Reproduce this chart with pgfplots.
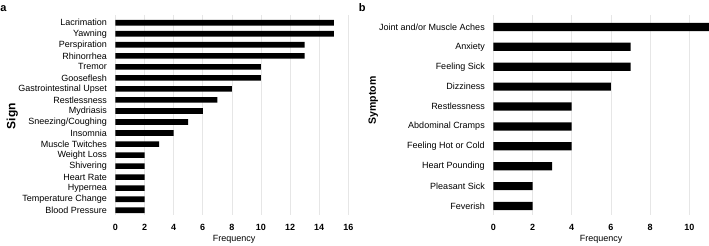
\documentclass[border=0pt]{standalone}
\usepackage{pgfplots}
\pgfplotsset{compat=1.18}
\usepackage{fontspec}
\setmainfont{Liberation Sans}
\definecolor{gridc}{HTML}{E6E6E6}
\pgfplotsset{
  mybar/.style={
    scale only axis,
    anchor=south west,
    xbar,
    height=200pt,
    xmin=0,
    axis line style={draw=none},
    tick style={draw=none},
    major tick length=0pt,
    xmajorgrids,
    grid style={color=gridc, line width=0.6pt},
    /pgf/number format/assume math mode=true,
    ticklabel style={font=\fontsize{9}{10}\selectfont},
    xticklabel style={font=\fontsize{9}{10}\selectfont\bfseries, yshift=-5.8pt},
    yticklabel style={xshift=-5pt},
    xlabel={Frequency},
    xlabel style={font=\fontsize{9}{10}\selectfont, anchor=center},
    ylabel style={font=\bfseries, anchor=center},
    ytick={0,...,20},
  }
}
\begin{document}
\begin{tikzpicture}
\useasboundingbox (0,0) rectangle (709pt,246pt);
\begin{axis}[mybar,
  at={(115.4pt,31pt)},
  width=237.3pt,
  xmax=16.3,
  xtick={0,2,...,16},
  ymin=-0.43, ymax=17.7,
  bar width=5.6pt,
  yticklabels={Blood Pressure,Temperature Change,Hypernea,Heart Rate,Shivering,Weight Loss,Muscle Twitches,Insomnia,Sneezing/Coughing,Mydriasis,Restlessness,Gastrointestinal Upset,Gooseflesh,Tremor,Rhinorrhea,Perspiration,Yawning,Lacrimation},
  ylabel={Sign},
  ylabel style={font=\fontsize{12}{13}\selectfont\bfseries, at={(axis description cs:-0.4345,0.4935)}},
  xlabel style={at={(axis description cs:0.5,-0.1215)}},
]
\addplot[fill=black, draw=none] coordinates {
(2,0) (2,1) (2,2) (2,3) (2,4) (2,5) (3,6) (4,7) (5,8) (6,9) (7,10) (8,11) (10,12) (10,13) (13,14) (13,15) (15,16) (15,17)};
\end{axis}
\begin{axis}[mybar,
  at={(493.3pt,31pt)},
  width=215.6pt,
  xmax=11,
  xtick={0,2,...,10},
  ymin=-0.45, ymax=9.6,
  bar width=8.2pt,
  yticklabels={Feverish,Pleasant Sick,Heart Pounding,Feeling Hot or Cold,Abdominal Cramps,Restlessness,Dizziness,Feeling Sick,Anxiety,Joint and/or Muscle Aches},
  ylabel={Symptom},
  ylabel style={font=\fontsize{10.5}{12}\selectfont\bfseries, at={(axis description cs:-0.5566,0.5735)}},
  xlabel style={at={(axis description cs:0.5,-0.1215)}},
]
\addplot[fill=black, draw=none] coordinates {
(2,0) (2,1) (3,2) (4,3) (4,4) (4,5) (6,6) (7,7) (7,8) (11,9)};
\end{axis}
\node[font=\fontsize{11}{12}\selectfont\bfseries] at (3.5pt,237.7pt) {a};
\node[font=\fontsize{11}{12}\selectfont\bfseries] at (362.3pt,238.3pt) {b};
\end{tikzpicture}
\end{document}
